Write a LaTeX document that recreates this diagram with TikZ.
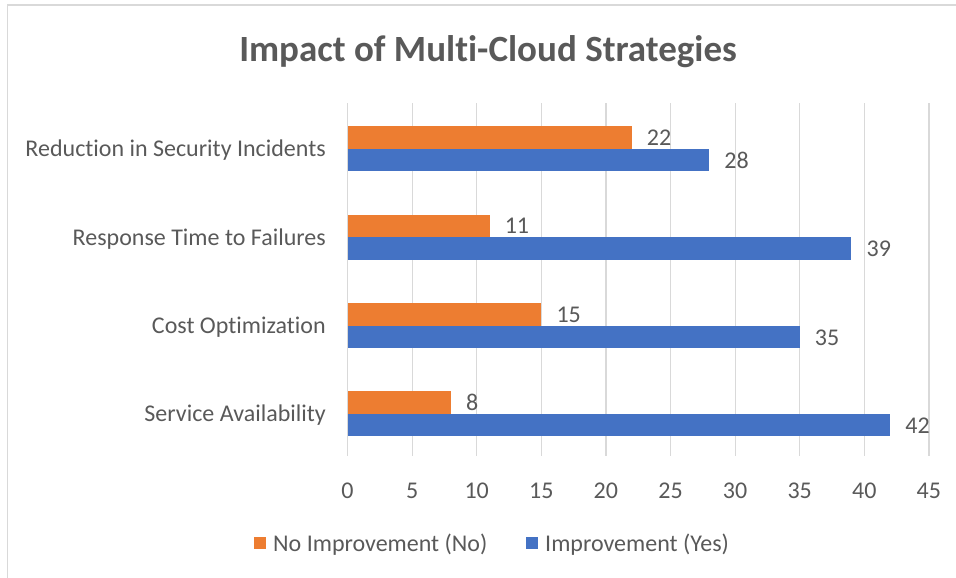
\documentclass[tikz,border=0pt]{standalone}
\usepackage{fontspec}
\setmainfont{Carlito}[Ligatures=NoCommon]
\definecolor{barorange}{HTML}{ED7D31}
\definecolor{barblue}{HTML}{4472C4}
\definecolor{txtgray}{HTML}{595959}
\definecolor{gridgray}{HTML}{D9D9D9}
\begin{document}
\begin{tikzpicture}[x=1pt,y=-1pt,
	lbl/.style={text=txtgray,font=\fontsize{24}{28}\selectfont,inner sep=0pt},
	ttl/.style={text=txtgray,font=\fontsize{37}{42}\selectfont\bfseries,inner sep=0pt},
	grid line/.style={gridgray,line width=1.2pt}]
	\useasboundingbox (0,0) rectangle (956,578);
	% frame of the chart
	\draw[gridgray,line width=1.5pt] (7.5,585) -- (7.5,5) -- (965,5);
	\node[ttl,anchor=base] (title) at (488,62) {Impact of Multi-Cloud Strategies};
	% value axis
	\foreach \v in {0,5,...,45}{
		\draw[grid line] ({347.5+12.92*\v},103) -- ({347.5+12.92*\v},456);
		\node[lbl,anchor=base] (tick\v) at ({347.5+12.92*\v},498) {\v};
	}
	% bars, orange above blue
	\foreach \cat/\no/\yes/\y [count=\i] in {Reduction in Security Incidents/22/28/148.5,
		Response Time to Failures/11/39/237,Cost Optimization/15/35/325.5,Service Availability/8/42/413.5}{
		\fill[barorange] (347.5,\y-22.5) rectangle ({347.5+12.92*\no},\y);
		\fill[barblue] (347.5,\y) rectangle ({347.5+12.92*\yes},\y+22.5);
		\node[lbl,anchor=base east] (cat\i) at (326,\y+8) {\cat};
		\node[lbl,anchor=base west] (no\i) at ({347.5+12.92*\no+15},\y-3.5) {\no};
		\node[lbl,anchor=base west] (yes\i) at ({347.5+12.92*\yes+15},\y+19.5) {\yes};
	}
	% legend
	\fill[barorange] (254,537) rectangle (266,549);
	\node[lbl,anchor=base west] (legno) at (273,551) {No Improvement (No)};
	\fill[barblue] (526,537) rectangle (538,549);
	\node[lbl,anchor=base west] (legyes) at (545,551) {Improvement (Yes)};
\end{tikzpicture}
\end{document}
